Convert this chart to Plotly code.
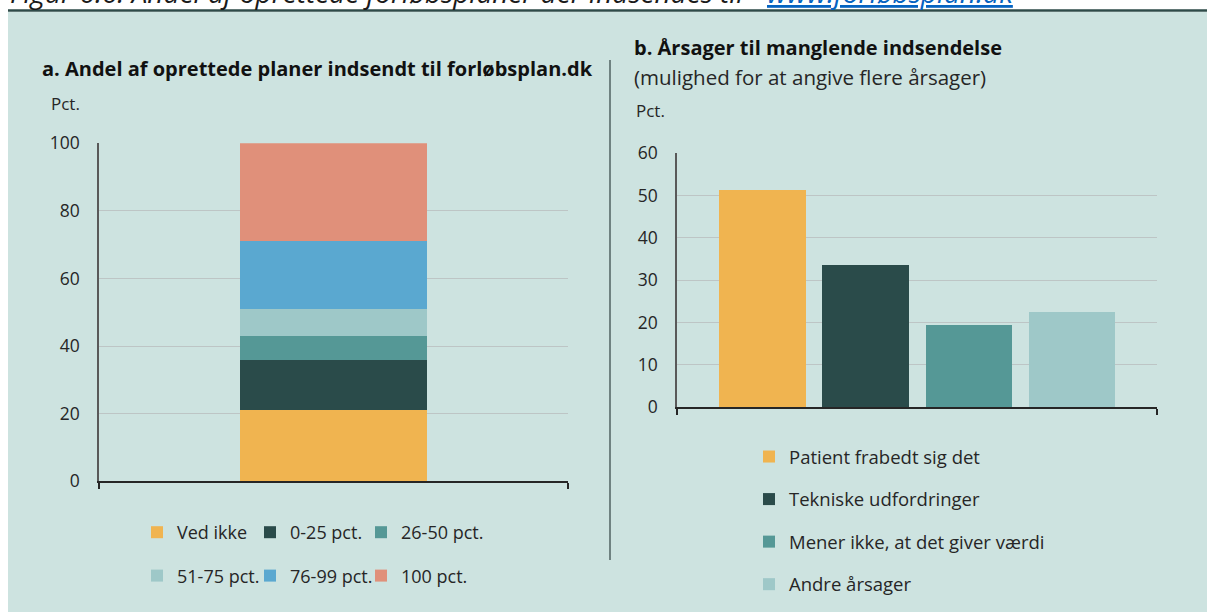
import plotly.graph_objects as go

W, H = 1207, 612

# a. Andel af oprettede planer indsendt til forløbsplan.dk (stacked, pct.)
share_labels = ["Ved ikke", "0-25 pct.", "26-50 pct.", "51-75 pct.", "76-99 pct.", "100 pct."]
share_values = [21, 15, 7, 8, 20, 29]
share_colors = ["#F0B450", "#2A4B4A", "#559896", "#9EC8C8", "#5AA8D0", "#E0907A"]
share_ticks = [0, 20, 40, 60, 80, 100]

# b. Årsager til manglende indsendelse (pct.)
reason_labels = ["Patient frabedt sig det", "Tekniske udfordringer",
                 "Mener ikke, at det giver værdi", "Andre årsager"]
reason_values = [51.4, 33.5, 19.5, 22.5]
reason_colors = ["#F0B450", "#2A4B4A", "#559896", "#9EC8C8"]
reason_ticks = [0, 10, 20, 30, 40, 50, 60]

FONT = "Open Sans"
TXT = "#262626"
PANEL = "#CDE3E0"
GRID = "#BDC5C5"


def px(x):
    return x / W


def py(y):
    return 1 - y / H


fig = go.Figure()

# panel a legend is laid out as three columns of two entries
share_legend = ["legend", "legend2", "legend3", "legend", "legend2", "legend3"]

for i, (lab, val, col) in enumerate(zip(share_labels, share_values, share_colors)):
    fig.add_trace(go.Bar(
        x=[0], y=[val], width=0.4, name=lab, marker=dict(color=col, line=dict(width=0)),
        xaxis="x", yaxis="y", legend=share_legend[i], legendgroup=lab,
        hovertemplate=lab + ": %{y} pct.<extra></extra>",
    ))

for i, (lab, val, col) in enumerate(zip(reason_labels, reason_values, reason_colors)):
    fig.add_trace(go.Bar(
        x=[i], y=[val], width=0.835, name=lab, marker=dict(color=col, line=dict(width=0)),
        xaxis="x2", yaxis="y2", legend="legend4", legendgroup=lab,
        hovertemplate=lab + ": %{y} pct.<extra></extra>",
    ))

xaxis_common = dict(
    tickmode="array", ticks="outside", ticklen=6, tickwidth=1.5, tickcolor=TXT,
    showticklabels=False, showline=True, linecolor=TXT, linewidth=1.5,
    showgrid=False, zeroline=False, fixedrange=True, automargin=False,
)
yaxis_common = dict(
    tickmode="array", ticks="", showgrid=True, gridcolor=GRID, gridwidth=1.3,
    showline=True, linecolor="#595959", linewidth=1.5, zeroline=False,
    tickfont=dict(family=FONT, size=17.5, color=TXT), ticklabelstandoff=14,
    fixedrange=True, automargin=False,
)

legend_common = dict(
    bgcolor="rgba(0,0,0,0)",
    xanchor="left", yanchor="top", itemclick=False, itemdoubleclick=False,
    orientation="v", traceorder="grouped",
)
left_font = dict(family=FONT, size=18, color=TXT)
right_font = dict(family=FONT, size=18.5, color=TXT)

fig.update_layout(
    width=W, height=H, margin=dict(l=0, r=0, t=0, b=0, autoexpand=False),
    paper_bgcolor="white", plot_bgcolor="rgba(0,0,0,0)",
    barmode="stack", showlegend=True,
    font=dict(family=FONT, color=TXT),
    xaxis=dict(domain=[px(99), px(568)], range=[-0.5, 0.5], tickvals=[-0.5, 0.5],
               anchor="y", **xaxis_common),
    yaxis=dict(domain=[py(481.3), py(143.3)], range=[0, 100], tickvals=share_ticks,
               anchor="x", **yaxis_common),
    xaxis2=dict(domain=[px(677), px(1157)], range=[-0.83, 3.83], tickvals=[-0.83, 3.83],
                anchor="y2", **xaxis_common),
    yaxis2=dict(domain=[py(407.3), py(153.3)], range=[0, 60], tickvals=reason_ticks,
                anchor="x2", **yaxis_common),
    legend=dict(x=px(137), y=py(514), tracegroupgap=17, font=left_font, **legend_common),
    legend2=dict(x=px(250), y=py(514), tracegroupgap=17, font=left_font, **legend_common),
    legend3=dict(x=px(361), y=py(514), tracegroupgap=17, font=left_font, **legend_common),
    legend4=dict(x=px(749), y=py(438), tracegroupgap=15.5, font=right_font, **legend_common),
    shapes=[
        dict(type="rect", xref="paper", yref="paper", x0=px(8), x1=1, y0=0, y1=py(12),
             fillcolor=PANEL, line=dict(width=0), layer="below"),
        dict(type="line", xref="paper", yref="paper", x0=px(8), x1=1, y0=py(10.5), y1=py(10.5),
             line=dict(color="#2E4B49", width=2.5)),
        dict(type="line", xref="paper", yref="paper", x0=px(610), x1=px(610), y0=py(60), y1=py(560),
             line=dict(color="#4F6262", width=1.5)),
    ],
    annotations=[
        dict(text="<i>Figur 6.6: Andel af oprettede forløbsplaner der indsendes til </i>",
             x=px(8), y=py(13), xref="paper", yref="paper", xanchor="left", yanchor="bottom",
             showarrow=False, font=dict(family=FONT, size=28, color="#1a1a1a")),
        dict(text="<i><u>www.forløbsplan.dk</u></i>",
             x=px(765), y=py(13), xref="paper", yref="paper", xanchor="left", yanchor="bottom",
             showarrow=False, font=dict(family=FONT, size=28, color="#0563C1")),
        dict(text="<b>a. Andel af oprettede planer indsendt til forløbsplan.dk</b>",
             x=px(40), y=py(68), xref="paper", yref="paper", xanchor="left", yanchor="middle",
             showarrow=False, font=dict(family=FONT, size=20, color="#111111")),
        dict(text="Pct.", x=px(49), y=py(103), xref="paper", yref="paper", xanchor="left",
             yanchor="middle", showarrow=False, font=dict(family=FONT, size=17, color=TXT)),
        dict(text="<b>b. Årsager til manglende indsendelse</b>",
             x=px(632), y=py(48), xref="paper", yref="paper", xanchor="left", yanchor="middle",
             showarrow=False, font=dict(family=FONT, size=20, color="#111111")),
        dict(text="(mulighed for at angive flere årsager)",
             x=px(632), y=py(77), xref="paper", yref="paper", xanchor="left", yanchor="middle",
             showarrow=False, font=dict(family=FONT, size=20.5, color=TXT)),
        dict(text="Pct.", x=px(634), y=py(110), xref="paper", yref="paper", xanchor="left",
             yanchor="middle", showarrow=False, font=dict(family=FONT, size=17, color=TXT)),
    ],
)

fig.write_html("out.html")
